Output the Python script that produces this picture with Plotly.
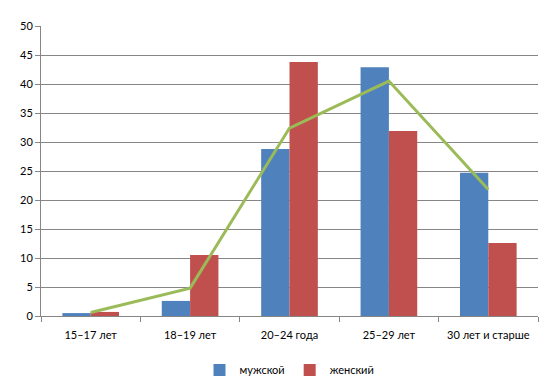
import plotly.graph_objects as go

categories = ["15–17 лет", "18–19 лет", "20–24 года", "25–29 лет", "30 лет и старше"]
male = [0.5, 2.6, 28.8, 42.9, 24.7]
female = [0.7, 10.5, 43.8, 31.9, 12.6]
total = [0.6, 4.8, 32.4, 40.5, 21.8]
y_ticks = [0, 5, 10, 15, 20, 25, 30, 35, 40, 45, 50]

fig = go.Figure()
fig.add_trace(go.Bar(x=categories, y=male, name="мужской", marker_color="#4F81BD", marker_line_width=0))
fig.add_trace(go.Bar(x=categories, y=female, name="женский", marker_color="#C0504D", marker_line_width=0))
fig.add_trace(go.Scatter(x=categories, y=total, mode="lines", line=dict(color="#9BBB59", width=3),
                         showlegend=False, hoverinfo="skip"))

fig.update_layout(
    template="none",
    width=550, height=390,
    margin=dict(l=41, r=12, t=26, b=74, autoexpand=False),
    paper_bgcolor="white", plot_bgcolor="white",
    font=dict(family="Lato, Open Sans, sans-serif", size=11, color="#000000"),
    barmode="group", bargap=0.43, bargroupgap=0,
    legend=dict(orientation="h", x=0.5, xanchor="center", y=-0.186, yanchor="middle",
                font=dict(size=11), itemwidth=30, traceorder="normal", bgcolor="rgba(0,0,0,0)"),
)
fig.update_xaxes(automargin=False, showline=True, linecolor="#868686", linewidth=1, ticks="outside",
                 tickson="boundaries", ticklen=5, tickcolor="#868686", showgrid=False,
                 ticklabelstandoff=9)
fig.update_yaxes(automargin=False, range=[0, 50], tickvals=y_ticks, showline=True, linecolor="#868686",
                 linewidth=1, ticks="outside", ticklen=5, tickcolor="#868686", showgrid=True,
                 gridcolor="#868686", gridwidth=1, zeroline=False)

fig.write_html("out.html", config={"displayModeBar": False},
               post_script="document.body.style.margin='0';document.body.style.padding='0';")
